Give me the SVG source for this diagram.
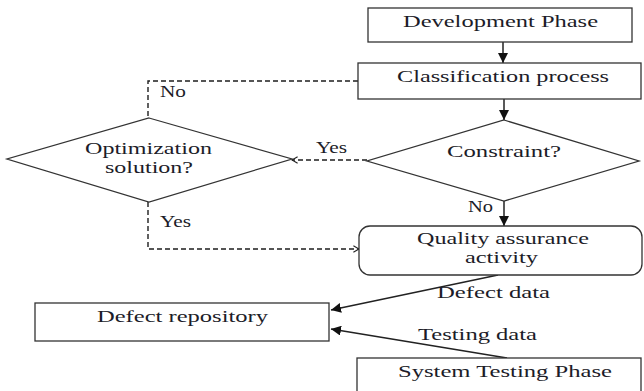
<svg xmlns="http://www.w3.org/2000/svg" width="644" height="391" viewBox="0 0 644 391">
<style>
.box{fill:#fff;stroke:#333;stroke-width:1.3}
.t{font-family:'Liberation Serif','DejaVu Serif',serif;font-size:16px;fill:#1c1c28}
.c{fill:none;stroke:#222;stroke-width:1.5}
.d{fill:none;stroke:#1e1e1e;stroke-width:1.4;stroke-dasharray:5,3}
</style>
<defs>
<marker id="fa" viewBox="0 0 10 10" refX="10" refY="5" markerWidth="10" markerHeight="10" markerUnits="userSpaceOnUse" orient="auto">
<path d="M0,0 L10,5 L0,10 z" fill="#111"/>
</marker>
<marker id="oa" viewBox="0 0 10 10" refX="9" refY="5" markerWidth="8" markerHeight="8" markerUnits="userSpaceOnUse" orient="auto">
<path d="M2,1 L9,5 L2,9" fill="none" stroke="#222" stroke-width="1.5"/>
</marker>
</defs>
<g id="connectors">
<line class="c" x1="503" y1="42" x2="503" y2="63" marker-end="url(#fa)"/>
<line class="c" x1="504" y1="99" x2="504" y2="120" marker-end="url(#fa)"/>
<line class="c" x1="504" y1="201" x2="504" y2="226" marker-end="url(#fa)"/>
<line class="d" x1="367" y1="160" x2="292" y2="160" marker-end="url(#oa)"/>
<polyline class="d" points="358,81 148,81 148,118"/>
<polyline class="d" points="148,202 148,249 359,249" marker-end="url(#oa)"/>
<line class="c" x1="498" y1="275" x2="331" y2="310" stroke-width="1.3" marker-end="url(#fa)"/>
<line class="c" x1="507" y1="358" x2="331" y2="329" stroke-width="1.3" marker-end="url(#fa)"/>
<text class="t" x="160" y="97" textLength="26" lengthAdjust="spacingAndGlyphs">No</text>
<text class="t" x="316" y="153" textLength="31" lengthAdjust="spacingAndGlyphs">Yes</text>
<text class="t" x="160" y="227" textLength="31" lengthAdjust="spacingAndGlyphs">Yes</text>
<text class="t" x="468" y="212" textLength="25" lengthAdjust="spacingAndGlyphs">No</text>
<text class="t" x="437" y="298" textLength="113" lengthAdjust="spacingAndGlyphs">Defect data</text>
<text class="t" x="418" y="340" textLength="119" lengthAdjust="spacingAndGlyphs">Testing data</text>
</g>
<g id="dev">
<rect class="box" x="368" y="8" width="264" height="34"/>
<text class="t" x="403" y="27" textLength="195" lengthAdjust="spacingAndGlyphs">Development Phase</text>
</g>
<g id="classification">
<rect class="box" x="358" y="63" width="283" height="36"/>
<text class="t" x="397" y="82" textLength="212" lengthAdjust="spacingAndGlyphs">Classification process</text>
</g>
<g id="constraint">
<polygon class="box" points="504,120 639,161 504,201 367,161"/>
<text class="t" x="447" y="157" textLength="114" lengthAdjust="spacingAndGlyphs">Constraint?</text>
</g>
<g id="optimization">
<polygon class="box" points="149,118 292,159 149,202 7,159"/>
<text class="t" x="85" y="154" textLength="127" lengthAdjust="spacingAndGlyphs">Optimization</text>
<text class="t" x="105" y="173" textLength="88" lengthAdjust="spacingAndGlyphs">solution?</text>
</g>
<g id="qa">
<rect class="box" x="359" y="226" width="283" height="49" rx="11" ry="11"/>
<text class="t" x="417" y="244" textLength="172" lengthAdjust="spacingAndGlyphs">Quality assurance</text>
<text class="t" x="465" y="263" textLength="73" lengthAdjust="spacingAndGlyphs">activity</text>
</g>
<g id="repository">
<rect class="box" x="35" y="303" width="294" height="38"/>
<text class="t" x="97" y="322" textLength="171" lengthAdjust="spacingAndGlyphs">Defect repository</text>
</g>
<g id="systemtesting">
<rect class="box" x="357" y="358" width="284" height="40"/>
<text class="t" x="398" y="377" textLength="214" lengthAdjust="spacingAndGlyphs">System Testing Phase</text>
</g>
</svg>
